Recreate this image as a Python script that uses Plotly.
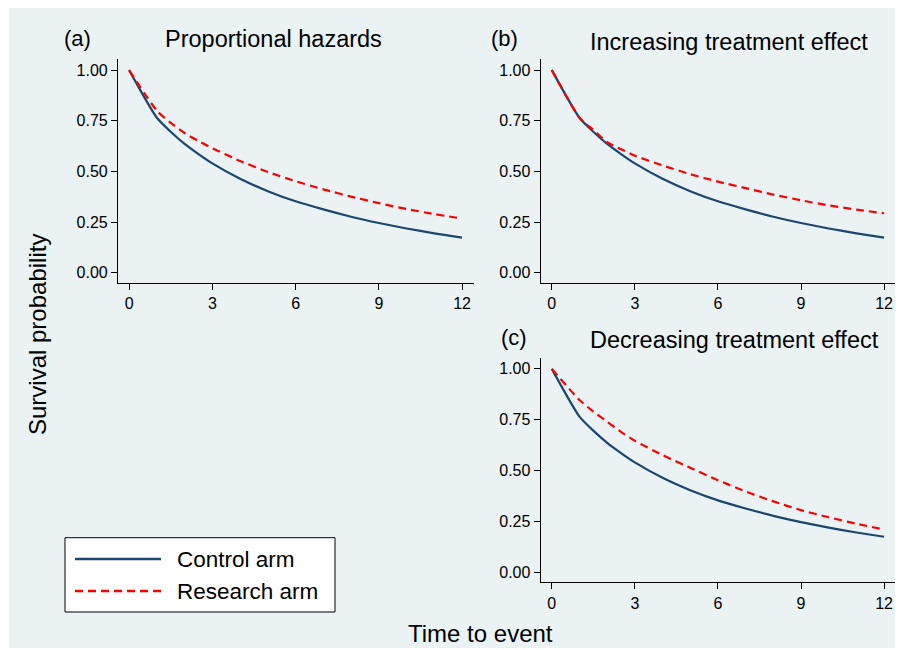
import plotly.graph_objects as go

# --- Data
times = [0, 1, 1.5, 2, 2.5, 3, 4, 5, 6, 7, 8, 9, 10, 11, 12]
control = [1.0, 0.765, 0.696, 0.636, 0.586, 0.540, 0.464, 0.403, 0.353, 0.313, 0.277, 0.246, 0.219, 0.195, 0.174]
research_ph = [1.0, 0.80, 0.74, 0.69, 0.65, 0.615, 0.552, 0.498, 0.452, 0.412, 0.376, 0.344, 0.315, 0.29, 0.268]
research_inc = [1.0, 0.765, 0.705, 0.645, 0.61, 0.578, 0.53, 0.487, 0.45, 0.418, 0.386, 0.358, 0.333, 0.312, 0.294]
research_dec = [1.0, 0.847, 0.79, 0.74, 0.69, 0.646, 0.576, 0.513, 0.452, 0.397, 0.348, 0.305, 0.27, 0.238, 0.21]

panel_letters = ["(a)", "(b)", "(c)"]
panel_titles = ["Proportional hazards", "Increasing treatment effect", "Decreasing treatment effect"]
legend_labels = ["Control arm", "Research arm"]
x_ticks = [0, 3, 6, 9, 12]
y_ticks = [0, 0.25, 0.5, 0.75, 1.0]

# the page body has an 8px margin, so the figure starts at (8, 8) in the window
OFF = 8
W, H = 903 - OFF, 650 - OFF
BG = "#EAF2F3"
NAVY = "#1A476F"
RED = "#FF0000"
FONT = "Liberation Sans, Arial, Helvetica, sans-serif"


def px_x(v):
    return (v - OFF) / W


def px_y(v):
    return 1 - (v - OFF) / H


fig = go.Figure()

# panel domains in window pixels
domains = {
    "": ([118, 474], [59, 283]),
    "2": ([540.7, 896], [59, 283]),
    "3": ([540.7, 896], [357.7, 582.3]),
}
series = [research_ph, research_inc, research_dec]

for (suffix, (xd, yd)), res in zip(domains.items(), series):
    xa = "x" + suffix
    ya = "y" + suffix
    fig.add_trace(go.Scatter(x=times, y=control, mode="lines", xaxis=xa, yaxis=ya,
                             line=dict(color=NAVY, width=2.2, shape="spline", smoothing=0.6),
                             showlegend=False))
    fig.add_trace(go.Scatter(x=times, y=res, mode="lines", xaxis=xa, yaxis=ya,
                             line=dict(color=RED, width=2.2, dash="8px,5px", shape="spline", smoothing=0.6),
                             showlegend=False))
    common = dict(showline=True, linecolor="black", linewidth=1.2, ticks="outside",
                  ticklen=6, tickcolor="black", tickfont=dict(size=16, color="black", family=FONT),
                  zeroline=False, automargin=False)
    fig.layout["xaxis" + suffix] = dict(domain=[px_x(xd[0]), px_x(xd[1])], anchor=ya,
                                       range=[-0.4, 12.43], tickvals=x_ticks, showgrid=False, **common)
    fig.layout["yaxis" + suffix] = dict(domain=[px_y(yd[1]), px_y(yd[0])], anchor=xa,
                                       range=[-0.05, 1.055], tickvals=y_ticks, tickformat=".2f",
                                       showgrid=True, gridcolor=BG, gridwidth=2, **common)

# background panel behind everything
shapes = [dict(type="rect", xref="paper", yref="paper", x0=px_x(9), x1=px_x(896),
               y0=px_y(648), y1=px_y(8), fillcolor=BG, line=dict(width=0), layer="below")]

# legend drawn by hand (Stata-style box with long line samples)
shapes.append(dict(type="rect", xref="paper", yref="paper", x0=px_x(65), x1=px_x(335),
                   y0=px_y(612), y1=px_y(537.7), fillcolor="white",
                   line=dict(color="black", width=1)))
shapes.append(dict(type="line", xref="paper", yref="paper", x0=px_x(75), x1=px_x(161),
                   y0=px_y(559), y1=px_y(559), line=dict(color=NAVY, width=2.5)))
shapes.append(dict(type="line", xref="paper", yref="paper", x0=px_x(75), x1=px_x(161),
                   y0=px_y(591), y1=px_y(591), line=dict(color=RED, width=2.5, dash="8px,5px")))

annotations = []


def text(t, x, y, size, xanchor="center", angle=0):
    annotations.append(dict(text=t, x=px_x(x), y=px_y(y), xref="paper", yref="paper",
                            showarrow=False, xanchor=xanchor, yanchor="middle", textangle=angle,
                            font=dict(size=size, color="black", family=FONT)))


text(panel_letters[0], 77, 38, 22)
text(panel_titles[0], 273, 39, 23.5)
text(panel_letters[1], 504, 38, 22)
text(panel_titles[1], 729, 42, 23.5)
text(panel_letters[2], 514, 337, 22)
text(panel_titles[2], 734, 340, 23.5)
text(legend_labels[0], 175, 559, 22.5, xanchor="left")
text(legend_labels[1], 175, 591, 22.5, xanchor="left")
text("Survival probability", 37, 335, 24, angle=-90)
text("Time to event", 480, 633, 24)

fig.update_layout(width=W, height=H, margin=dict(l=0, r=0, t=0, b=0),
                  paper_bgcolor="white", plot_bgcolor="white",
                  shapes=shapes, annotations=annotations, showlegend=False)

fig.write_html("out.html")
